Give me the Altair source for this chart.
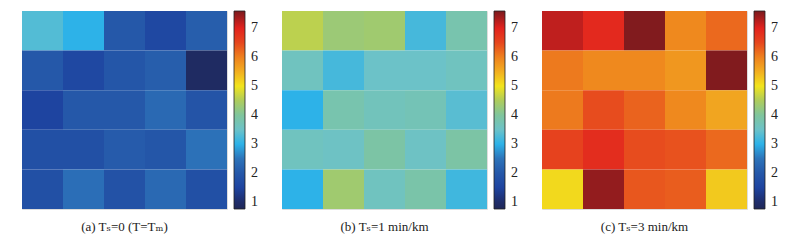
import altair as alt
import pandas as pd

# values (rows top -> bottom, cols left -> right)
vals_a = [
    [3.3, 3.0, 2.0, 1.6, 2.1],
    [2.0, 1.6, 1.95, 2.1, 0.9],
    [1.5, 2.0, 2.0, 2.3, 1.9],
    [1.8, 1.8, 2.05, 1.95, 2.45],
    [1.8, 2.4, 1.85, 2.3, 1.8],
]
vals_b = [
    [4.6, 4.3, 4.35, 3.2, 3.8],
    [3.6, 3.2, 3.5, 3.5, 3.6],
    [3.0, 3.8, 3.65, 3.7, 3.35],
    [3.6, 3.55, 3.9, 3.55, 3.9],
    [3.0, 4.35, 3.6, 3.85, 3.15],
]
vals_c = [
    [7.2, 6.9, 7.55, 5.9, 6.2],
    [6.05, 5.9, 5.9, 5.75, 7.55],
    [6.05, 6.45, 6.25, 5.9, 5.6],
    [6.55, 6.85, 6.45, 6.4, 6.2],
    [5.1, 7.45, 6.35, 6.3, 5.25],
]
captions = ["(a) Tₛ=0 (T=Tₘ)", "(b) Tₛ=1 min/km", "(c) Tₛ=3 min/km"]
tick_values = [1, 2, 3, 4, 5, 6, 7]

stop_values = [0.76, 1.0, 1.5, 2.0, 2.5, 3.0, 3.5, 4.0, 4.5, 5.0, 5.5, 6.0, 6.5, 7.0, 7.59]
stop_colors = ["#1f2757", "#1f2d6a", "#1e44a0", "#2558a9", "#2d74ba", "#2db2e8",
               "#6cc2c8", "#80c59c", "#aecc5c", "#f2e41c", "#f2ae20", "#ee801e",
               "#e6461e", "#e2221e", "#7a1a1e"]

FONT = "Times New Roman, Liberation Serif, DejaVu Serif, serif"


def panel(vals, caption):
    rows = []
    for r, row in enumerate(vals):
        for c, v in enumerate(row):
            rows.append({"row": r, "col": c, "v": v})
    df = pd.DataFrame(rows)
    return alt.Chart(df).mark_rect().encode(
        x=alt.X("col:O", axis=None, scale=alt.Scale(paddingInner=0, paddingOuter=0)),
        y=alt.Y("row:O", axis=None, scale=alt.Scale(paddingInner=0, paddingOuter=0)),
        color=alt.Color(
            "v:Q",
            scale=alt.Scale(domain=stop_values, range=stop_colors, interpolate="rgb"),
            legend=alt.Legend(
                title=None,
                values=tick_values,
                gradientLength=198,
                gradientThickness=11,
                gradientStrokeColor="#222",
                gradientStrokeWidth=0.8,
                offset=7,
                padding=0,
                labelFont=FONT,
                labelFontSize=14,
                labelColor="#222",
                labelOffset=6,
                labelOverlap=False,
            ),
        ),
    ).properties(
        width=205,
        height=198,
        title=alt.Title(caption, orient="bottom", anchor="middle", offset=11,
                        font=FONT, fontSize=13, fontWeight="normal", color="#222"),
    )


chart = alt.hconcat(
    panel(vals_a, captions[0]),
    panel(vals_b, captions[1]),
    panel(vals_c, captions[2]),
    spacing=22,
).resolve_scale(color="independent").resolve_legend(color="independent").properties(
    padding={"left": 13, "top": 2, "right": 0, "bottom": 0}
).configure_view(stroke=None).configure(background="white")

chart.save("out.html", embed_options={"renderer": "svg", "actions": False})
